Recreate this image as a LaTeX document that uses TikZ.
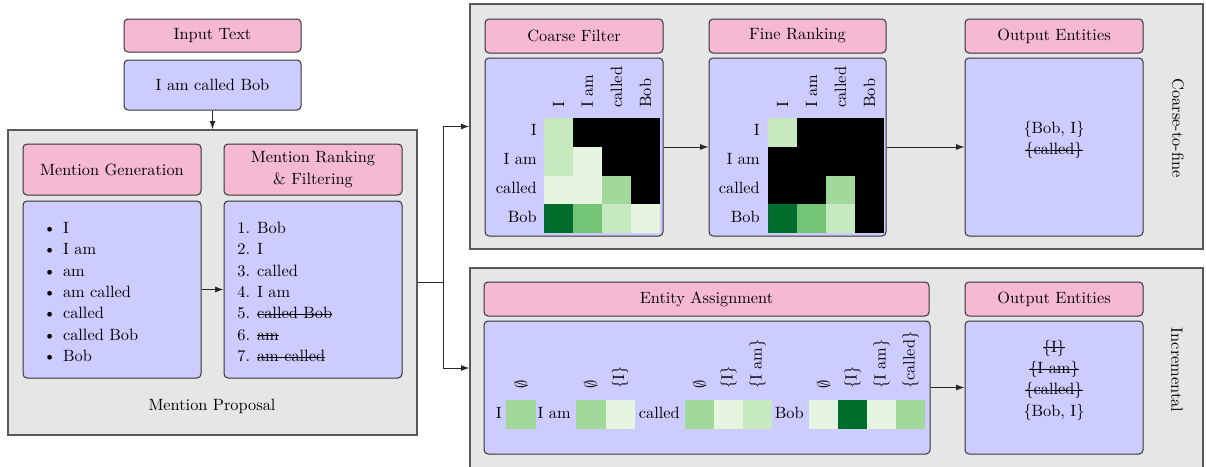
\documentclass[tikz,border=0pt]{standalone}
\usetikzlibrary{fit,arrows.meta}
\definecolor{pinkc}{HTML}{F6B9D4}
\definecolor{bluec}{HTML}{CCCCFF}
\definecolor{grayc}{HTML}{E6E6E6}
\definecolor{edgec}{HTML}{333333}
\definecolor{G1}{HTML}{E5F5E0}
\definecolor{G2}{HTML}{C7E9C0}
\definecolor{G3}{HTML}{A1D99B}
\definecolor{G4}{HTML}{74C476}
\definecolor{G6}{HTML}{006D2C}
\colorlet{K}{black}
\newsavebox\stkbox
\newcommand\stk[1]{\sbox\stkbox{#1}\rlap{\rule[0.24em]{\wd\stkbox}{0.5pt}}\usebox\stkbox}
\tikzset{
  hdr/.style={draw=edgec, fill=pinkc, rounded corners=2.4pt, line width=0.6pt, inner sep=0pt},
  body/.style={draw=edgec, fill=bluec, rounded corners=2.4pt, line width=0.6pt, inner sep=0pt},
  grp/.style={draw=black!65, fill=grayc, line width=0.8pt, inner sep=0pt},
  arr/.style={-{Latex[length=5pt,width=3.6pt]}, line width=0.6pt, draw=black!85},
  conn/.style={line width=0.6pt, draw=black!85},
  lbl/.style={inner sep=0pt},
}
\begin{document}
\begin{tikzpicture}[x=0.6pt,y=-0.6pt, font=\fontsize{9.8}{12.8}\selectfont]
\clip (0,0) rectangle (1206,466);
% ---------------- input
\node[hdr, fit={(124,19)(301,52)}] (inhdr) {};
\node[lbl] (inhdrt) at (inhdr.center) {Input Text};
\node[body, fit={(124,60)(301,110)}] (inbody) {};
\node[lbl] (inbodyt) at (inbody.center) {I am called Bob};
% ---------------- mention proposal
\node[grp, fit={(8,130)(417,435)}] (mp) {};
\node[hdr, fit={(23,144)(201,195)}] (mghdr) {};
\node[lbl] (mghdrt) at (mghdr.center) {Mention Generation};
\node[hdr, fit={(224,144)(402,195)}] (mrhdr) {};
\node[lbl, align=center, font=\fontsize{9.8}{13.2}\selectfont] (mrhdrt) at (mrhdr.center) {Mention Ranking\\\& Filtering};
\node[body, fit={(23,201)(201,378)}] (mgbody) {};
\node[body, fit={(224,201)(402,378)}] (mrbody) {};
\node[lbl, anchor=west, align=left] (mglist) at (43,292) {%
\textbullet\hspace{4.2pt}I\\
\textbullet\hspace{4.2pt}I am\\
\textbullet\hspace{4.2pt}am\\
\textbullet\hspace{4.2pt}am called\\
\textbullet\hspace{4.2pt}called\\
\textbullet\hspace{4.2pt}called Bob\\
\textbullet\hspace{4.2pt}Bob};
\node[lbl, anchor=west, align=left] (mrlist) at (237,292) {%
1.\hspace{4.2pt}Bob\\
2.\hspace{4.2pt}I\\
3.\hspace{4.2pt}called\\
4.\hspace{4.2pt}I am\\
5.\hspace{4.2pt}\stk{called Bob}\\
6.\hspace{4.2pt}\stk{am}\\
7.\hspace{4.2pt}\stk{am called}};
\node[lbl] (mplabel) at (212,406) {Mention Proposal};
\draw[arr] (inbody.south) -- (mp.north);
\draw[arr] (mgbody.east) -- (mrbody.west);
% ---------------- coarse-to-fine
\node[grp, fit={(470,4)(1203,249)}] (c2f) {};
\node[hdr, fit={(485,19)(663,53)}] (cfhdr) {};
\node[lbl] (cfhdrt) at (cfhdr.center) {Coarse Filter};
\node[body, fit={(485,58)(663,236)}] (cfbody) {};
\node[hdr, fit={(709,19)(886,53)}] (frhdr) {};
\node[lbl] (frhdrt) at (frhdr.center) {Fine Ranking};
\node[body, fit={(709,58)(886,236)}] (frbody) {};
\node[hdr, fit={(965,19)(1143,53)}] (oehdr) {};
\node[lbl] (oehdrt) at (oehdr.center) {Output Entities};
\node[body, fit={(965,58)(1143,236)}] (oebody) {};
\node[lbl, align=center] (oetext) at (1054,140) {\{Bob, I\}\\\stk{\{called\}}};
\node[lbl, rotate=-90] (c2flabel) at (1178,128) {Coarse-to-fine};
% coarse matrix
\foreach \row [count=\r from 0] in {{G2,K,K,K},{G2,G1,K,K},{G1,G1,G3,K},{G6,G4,G2,G1}} {
  \foreach \c [count=\k from 0] in \row {
    \fill[\c] (544+29*\k,118+28.75*\r) rectangle ++(29.2,28.95);
  }
}
% fine matrix
\foreach \row [count=\r from 0] in {{G2,K,K,K},{K,K,K,K},{K,K,G3,K},{G6,G4,G2,K}} {
  \foreach \c [count=\k from 0] in \row {
    \fill[\c] (768+29*\k,118+28.75*\r) rectangle ++(29.2,28.95);
  }
}
\foreach \t [count=\i from 0] in {I,I am,called,Bob} {
  \node[lbl, anchor=mid east] (cfr\i) at (537,132.4+28.75*\i) {\t};
  \node[lbl, anchor=mid east] (frr\i) at (760,132.4+28.75*\i) {\t};
  \node[lbl, rotate=90, anchor=west] (cfc\i) at (558.5+29*\i,108) {\t};
  \node[lbl, rotate=90, anchor=west] (frc\i) at (782.5+29*\i,108) {\t};
}
\draw[arr] (cfbody.east) -- (frbody.west);
\draw[arr] (frbody.east) -- (oebody.west);
% ---------------- incremental
\node[grp, fit={(470,268)(1203,468)}] (inc) {};
\node[hdr, fit={(484,282)(929,316)}] (eahdr) {};
\node[lbl] (eahdrt) at (eahdr.center) {Entity Assignment};
\node[body, fit={(484,321)(930,454)}] (eabody) {};
\node[hdr, fit={(965,282)(1143,316)}] (oe2hdr) {};
\node[lbl] (oe2hdrt) at (oe2hdr.center) {Output Entities};
\node[body, fit={(965,321)(1143,454)}] (oe2body) {};
\node[lbl, align=center] (oe2text) at (1054,380) {\stk{\{I\}}\\\stk{\{I am\}}\\\stk{\{called\}}\\\{Bob, I\}};
\node[lbl, rotate=-90] (inclabel) at (1177,370) {Incremental};
% words
\node[lbl, anchor=mid east] (w1) at (502,414.5) {I};
\node[lbl, anchor=mid east] (w2) at (571,414.5) {I am};
\node[lbl, anchor=mid east] (w3) at (680,414.5) {called};
\node[lbl, anchor=mid east] (w4) at (804,414.5) {Bob};
% cells
\fill[G3] (506,400) rectangle (536,429);
\foreach \c [count=\k from 0] in {G3,G1} {\fill[\c] (576+29.5*\k,400) rectangle ++(29.7,29);}
\foreach \c [count=\k from 0] in {G3,G1,G2} {\fill[\c] (685+29*\k,400) rectangle ++(29.2,29);}
\foreach \c [count=\k from 0] in {G1,G6,G1,G3} {\fill[\c] (809+29*\k,400) rectangle ++(29.2,29);}
% candidate labels
\node[lbl, rotate=90, anchor=west] (e10) at (521,389) {$\emptyset$};
\foreach \t [count=\k from 0] in {$\emptyset$,\{I\}} {
  \node[lbl, rotate=90, anchor=west] (e2\k) at (590.5+29.5*\k,389) {\t};}
\foreach \t [count=\k from 0] in {$\emptyset$,\{I\},\{I am\}} {
  \node[lbl, rotate=90, anchor=west] (e3\k) at (699.5+29*\k,389) {\t};}
\foreach \t [count=\k from 0] in {$\emptyset$,\{I\},\{I am\},\{called\}} {
  \node[lbl, rotate=90, anchor=west] (e4\k) at (823.5+29*\k,389) {\t};}
\draw[arr] (eabody.east) -- (oe2body.west);
% ---------------- branch connectors
\coordinate (br) at (443,282.5);
\draw[conn] (mp.east) -- (br);
\draw[arr] (br) |- (c2f.west);
\draw[arr] (br) |- (inc.west);
\end{tikzpicture}
\end{document}
